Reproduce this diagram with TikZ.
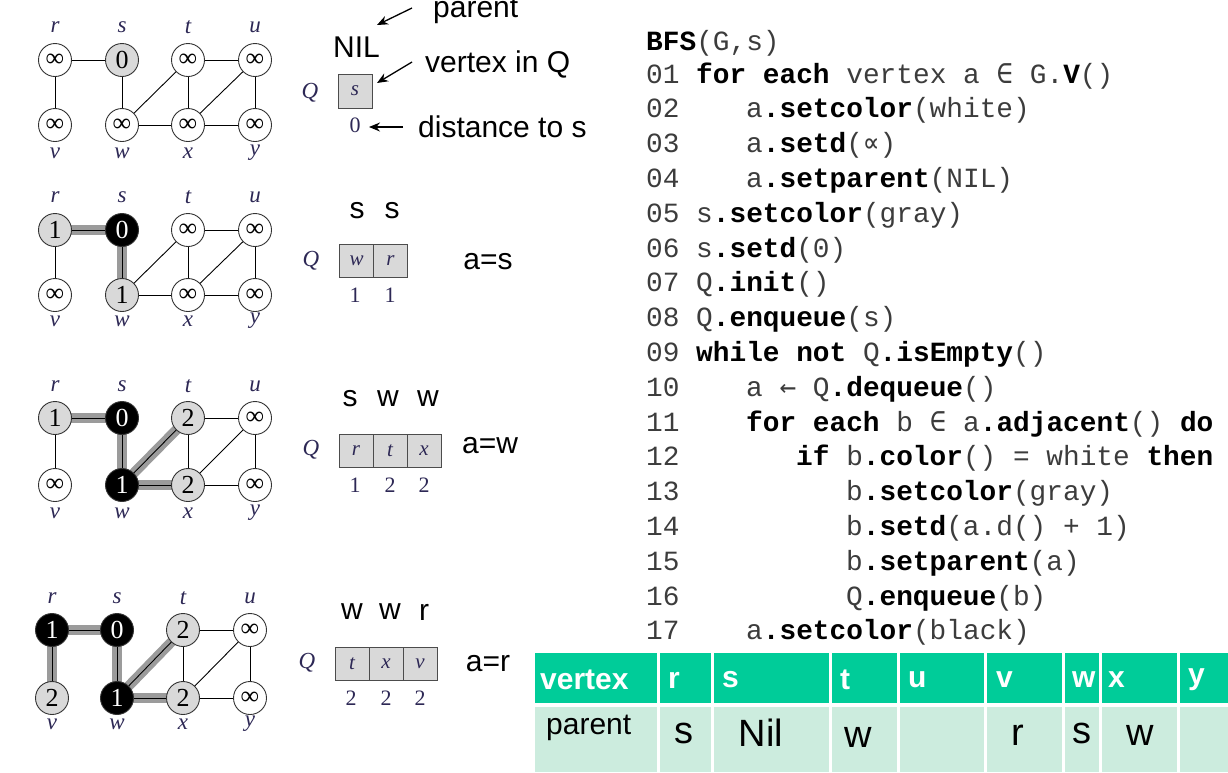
\documentclass[tikz,border=0pt]{standalone}
\usepackage{fontspec}
\setmainfont{Liberation Sans}
\newfontfamily\tms{Liberation Serif}
\newfontfamily\mon{Liberation Mono}
\newfontfamily\dvm{DejaVu Sans Mono}
\usetikzlibrary{arrows.meta}
\pgfdeclarelayer{bg}
\pgfsetlayers{bg,main}
\definecolor{hdr}{RGB}{0,204,153}
\definecolor{rowc}{RGB}{204,236,222}
\definecolor{labc}{RGB}{45,40,85}
\definecolor{ngray}{RGB}{217,217,217}
\definecolor{band}{RGB}{155,155,155}
\definecolor{codec}{RGB}{60,60,60}
\newcommand\kwd[1]{\textcolor{black}{\bfseries #1}}
\tikzset{
 vtx/.style={circle, draw=black!80, line width=0.9pt, minimum size=33pt, inner sep=0pt, font=\tms\fontsize{26}{28}\selectfont},
 wn/.style={vtx, fill=white},
 gn/.style={vtx, fill=ngray},
 bn/.style={vtx, fill=black, text=white},
 lab/.style={font=\tms\itshape\fontsize{23}{25}\selectfont, text=labc, inner sep=0pt},
 edge/.style={line width=0.9pt, black},
 tree/.style={line width=10pt, band},
 qcell/.style={draw=black!70, line width=1pt, fill=ngray, minimum width=34pt, minimum height=33pt, inner sep=0pt, font=\tms\itshape\fontsize{21}{23}\selectfont, text=labc},
 qnum/.style={font=\tms\fontsize{22}{24}\selectfont, text=labc, inner sep=0pt},
 qlab/.style={font=\tms\itshape\fontsize{23}{25}\selectfont, text=labc, inner sep=0pt},
 ann/.style={font=\fontsize{30}{34}\selectfont, inner sep=0pt},
 annw/.style={ann, anchor=base west},
 code/.style={font=\mon\fontsize{27.8}{30}\selectfont, text=codec, inner sep=0pt, anchor=base west},
 ptr/.style={-{Stealth[length=11pt,width=9pt]}, line width=1.3pt},
 htxt/.style={font=\bfseries\fontsize{30}{34}\selectfont, text=white, inner sep=0pt, anchor=west},
 rtxt/.style={font=\fontsize{38}{42}\selectfont, inner sep=0pt},
}
\begin{document}
\begin{tikzpicture}[x=1pt,y=-1pt]
\useasboundingbox (0,0) rectangle (1228,772);

% ---------- Graph 1 ----------
\node[wn] (g1r) at (55,60) {∞};
\node[gn] (g1s) at (122,60) {0};
\node[wn] (g1t) at (188,60) {∞};
\node[wn] (g1u) at (255,60) {∞};
\node[wn] (g1v) at (55,125) {∞};
\node[wn] (g1w) at (122,125) {∞};
\node[wn] (g1x) at (188,125) {∞};
\node[wn] (g1y) at (255,125) {∞};
% ---------- Graph 2 ----------
\node[gn] (g2r) at (55,230) {1};
\node[bn] (g2s) at (122,230) {0};
\node[wn] (g2t) at (188,230) {∞};
\node[wn] (g2u) at (255,230) {∞};
\node[wn] (g2v) at (55,295) {∞};
\node[gn] (g2w) at (122,295) {1};
\node[wn] (g2x) at (188,295) {∞};
\node[wn] (g2y) at (255,295) {∞};
% ---------- Graph 3 ----------
\node[gn] (g3r) at (55,418) {1};
\node[bn] (g3s) at (122,418) {0};
\node[gn] (g3t) at (188,418) {2};
\node[wn] (g3u) at (255,418) {∞};
\node[wn] (g3v) at (55,485) {∞};
\node[bn] (g3w) at (122,485) {1};
\node[gn] (g3x) at (188,485) {2};
\node[wn] (g3y) at (255,485) {∞};
% ---------- Graph 4 ----------
\node[bn] (g4r) at (52,630) {1};
\node[bn] (g4s) at (117,630) {0};
\node[gn] (g4t) at (183,630) {2};
\node[wn] (g4u) at (250,630) {∞};
\node[gn] (g4v) at (52,698) {2};
\node[bn] (g4w) at (117,698) {1};
\node[gn] (g4x) at (183,698) {2};
\node[wn] (g4y) at (250,698) {∞};

% labels
\foreach \g/\yt/\yb/\xa/\xb/\xc/\xd in {1/27/153/55/122/188/255, 2/197/321/55/122/188/255, 3/386/513/55/122/188/255, 4/598/724/52/117/183/250}{
  \node[lab] (l\g r) at (\xa,\yt) {r};
  \node[lab] (l\g s) at (\xb,\yt) {s};
  \node[lab] (l\g t) at (\xc,\yt) {t};
  \node[lab] (l\g u) at (\xd,\yt) {u};
  \node[lab] (l\g v) at (\xa,\yb) {v};
  \node[lab] (l\g w) at (\xb,\yb) {w};
  \node[lab] (l\g x) at (\xc,\yb) {x};
  \node[lab] (l\g y) at (\xd,\yb) {y};
}

\begin{pgfonlayer}{bg}
  \foreach \a/\b in {2r/2s,2s/2w, 3r/3s,3s/3w,3w/3t,3w/3x, 4r/4s,4r/4v,4s/4w,4w/4t,4w/4x}
    \draw[tree] (g\a.center) -- (g\b.center);
  \foreach \g in {1,2,3,4}{
    \foreach \a/\b in {r/s,r/v,s/w,w/t,w/x,t/x,t/u,u/x,u/y,x/y}
      \draw[edge] (g\g\a.center) -- (g\g\b.center);
  }
\end{pgfonlayer}

% ---------- Queue 1 ----------
\node[qlab] (Q1) at (310,93) {Q};
\node[qcell, minimum height=34pt] (q1a) at (355,91) {s};
\node[qnum] (d1a) at (355,125) {0};
\node[annw] (nil) at (333,57) {NIL};
\node[annw] (tparent) at (433,17) {parent};
\node[annw] (tvert) at (425,72) {vertex in Q};
\node[annw] (tdist) at (418,137) {distance to s};
\coordinate (pa1) at (412,8);   \coordinate (pa2) at (377,25);
\coordinate (va1) at (412,62);  \coordinate (va2) at (377,83);
\coordinate (da1) at (403,127); \coordinate (da2) at (369,127);
\draw[ptr] (pa1) -- (pa2);
\draw[ptr] (va1) -- (va2);
\draw[ptr] (da1) -- (da2);

% ---------- Queue 2 ----------
\node[qlab] (Q2) at (311,261) {Q};
\node[qcell] (q2a) at (356.5,260.5) {w};
\node[qcell] (q2b) at (390.5,260.5) {r};
\node[ann] (p2a) at (357,211) {s};
\node[ann] (p2b) at (392,211) {s};
\node[qnum] (d2a) at (355,295) {1};
\node[qnum] (d2b) at (390,295) {1};
\node[ann] (a2) at (488,262) {a=s};

% ---------- Queue 3 ----------
\node[qlab] (Q3) at (311,450) {Q};
\node[qcell] (q3a) at (356,450.5) {r};
\node[qcell] (q3b) at (390,450.5) {t};
\node[qcell] (q3c) at (424,450.5) {x};
\node[ann] (p3a) at (350,399) {s};
\node[ann] (p3b) at (388,399) {w};
\node[ann] (p3c) at (428,399) {w};
\node[qnum] (d3a) at (355,485) {1};
\node[qnum] (d3b) at (390,485) {2};
\node[qnum] (d3c) at (424,485) {2};
\node[ann] (a3) at (490,446) {a=w};

% ---------- Queue 4 ----------
\node[qlab] (Q4) at (307,663) {Q};
\node[qcell] (q4a) at (352,664) {t};
\node[qcell] (q4b) at (386,664) {x};
\node[qcell] (q4c) at (420,664) {v};
\node[ann] (p4a) at (352,612) {w};
\node[ann] (p4b) at (390,612) {w};
\node[ann] (p4c) at (424,612) {r};
\node[qnum] (d4a) at (351,698) {2};
\node[qnum] (d4b) at (386,698) {2};
\node[qnum] (d4c) at (420,698) {2};
\node[ann] (a4) at (488,664) {a=r};

% ---------- Code ----------
\node[code] (c00) at (646,50) {\kwd{BFS}(G,s)};
\node[code] (n01) at (646,83) {01};
\node[code] (c01) at (696,83) {\kwd{for each} vertex a {\dvm ∈} G.\kwd{V}()};
\node[code] (n02) at (646,117.8) {02};
\node[code] (c02) at (746,117.8) {a\kwd{.setcolor}(white)};
\node[code] (n03) at (646,152.6) {03};
\node[code] (c03) at (746,152.6) {a\kwd{.setd}({\dvm ∝})};
\node[code] (n04) at (646,187.4) {04};
\node[code] (c04) at (746,187.4) {a\kwd{.setparent}(NIL)};
\node[code] (n05) at (646,222.2) {05};
\node[code] (c05) at (696,222.2) {s\kwd{.setcolor}(gray)};
\node[code] (n06) at (646,257) {06};
\node[code] (c06) at (696,257) {s\kwd{.setd}(0)};
\node[code] (n07) at (646,291.8) {07};
\node[code] (c07) at (696,291.8) {Q\kwd{.init}()};
\node[code] (n08) at (646,326.6) {08};
\node[code] (c08) at (696,326.6) {Q\kwd{.enqueue}(s)};
\node[code] (n09) at (646,361.4) {09};
\node[code] (c09) at (696,361.4) {\kwd{while not} Q\kwd{.isEmpty}()};
\node[code] (n10) at (646,396.2) {10};
\node[code] (c10) at (746,396.2) {a {\dvm ←} Q\kwd{.dequeue}()};
\node[code] (n11) at (646,431) {11};
\node[code] (c11) at (746,431) {\kwd{for each} b {\dvm ∈} a\kwd{.adjacent}() \kwd{do}};
\node[code] (n12) at (646,465.8) {12};
\node[code] (c12) at (796,465.8) {\kwd{if} b\kwd{.color}() = white \kwd{then}};
\node[code] (n13) at (646,500.6) {13};
\node[code] (c13) at (846,500.6) {b\kwd{.setcolor}(gray)};
\node[code] (n14) at (646,535.4) {14};
\node[code] (c14) at (846,535.4) {b\kwd{.setd}(a.d() + 1)};
\node[code] (n15) at (646,570.2) {15};
\node[code] (c15) at (846,570.2) {b\kwd{.setparent}(a)};
\node[code] (n16) at (646,605) {16};
\node[code] (c16) at (846,605) {Q\kwd{.enqueue}(b)};
\node[code] (n17) at (646,639.8) {17};
\node[code] (c17) at (746,639.8) {a\kwd{.setcolor}(black)};

% ---------- Table ----------
\foreach \xa/\xb in {535/656.5, 659.5/710.5, 713.5/828.5, 831.5/896.5, 899.5/983.5, 986.5/1061.5, 1064.5/1098.5, 1101.5/1176.5, 1179.5/1230}{
  \fill[hdr] (\xa,653) rectangle (\xb,703);
  \fill[rowc] (\xa,707) rectangle (\xb,772);
}
\node[htxt] (hv) at (540,680) {vertex};
\node[htxt] (hr) at (668,680) {r};
\node[htxt] (hs) at (722,680) {s};
\node[htxt] (ht) at (840,680) {t};
\node[htxt] (hu) at (908,680) {u};
\node[htxt] (hvv) at (996,680) {v};
\node[htxt] (hw) at (1072,680) {w};
\node[htxt] (hx) at (1108,680) {x};
\node[htxt] (hy) at (1188,680) {y};
\node[ann, anchor=west] (rp) at (546,728) {parent};
\node[rtxt] (rr) at (684,733) {s};
\node[rtxt] (rs) at (761,733) {Nil};
\node[rtxt] (rt) at (858,737) {w};
\node[rtxt] (rv) at (1018,735) {r};
\node[rtxt] (rw) at (1082,733) {s};
\node[rtxt] (rx) at (1140,735) {w};
\end{tikzpicture}
\end{document}
